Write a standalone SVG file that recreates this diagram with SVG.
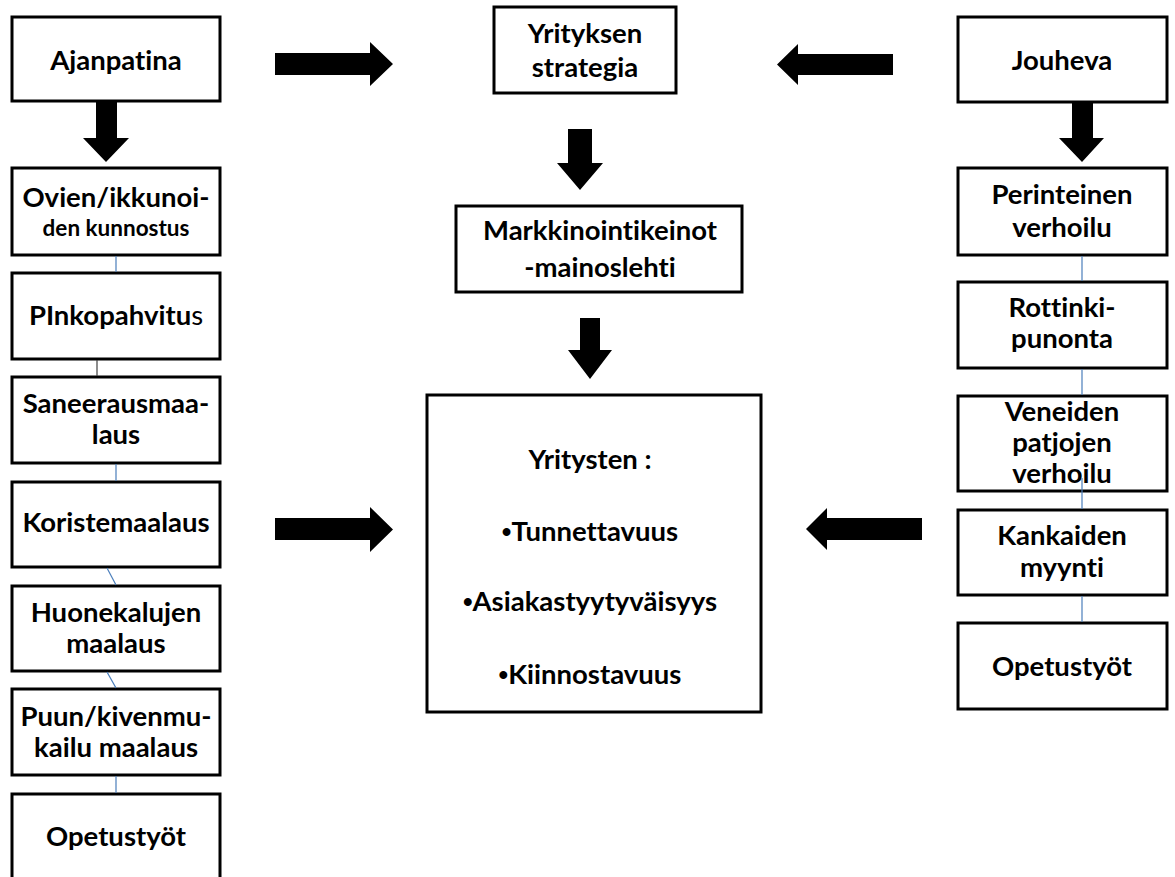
<svg xmlns="http://www.w3.org/2000/svg" width="1175" height="877" viewBox="0 0 1175 877">
<style>
.box{fill:#fff;stroke:#000;stroke-width:3}
.t{font-family:Lato,"Liberation Sans",sans-serif;font-weight:bold;font-size:27.5px;fill:#000;text-anchor:middle;font-variant-ligatures:none;font-feature-settings:"liga" 0,"clig" 0,"dlig" 0}
.s{font-size:22.5px}
.b{font-family:"Liberation Sans",sans-serif}
.ln{stroke:#4a7ebb;stroke-width:1.2;fill:none}
.ln2{stroke:#404040;stroke-width:1.2;fill:none}
.ar{fill:#000}
</style>
<rect width="1175" height="877" fill="#fff"/>
<g id="ajanpatina"><rect class="box" x="12" y="17" width="208" height="84"/><text class="t" x="116" y="70">Ajanpatina</text></g>
<g id="ovien"><rect class="box" x="12" y="168" width="208" height="87"/><text class="t" x="116" y="207">Ovien/ikkunoi-</text><text class="t s" x="116" y="236">den kunnostus</text></g>
<g id="pinkopahvitus"><rect class="box" x="12" y="273" width="208" height="86"/><text class="t" x="116" y="325">PInkopahvitu<tspan font-weight="normal">s</tspan></text></g>
<g id="saneeraus"><rect class="box" x="12" y="377" width="208" height="86"/><text class="t" x="116" y="413">Saneerausmaa-</text><text class="t" x="116" y="444">laus</text></g>
<g id="koriste"><rect class="box" x="12" y="482" width="208" height="85"/><text class="t" x="116" y="532">Koristemaalaus</text></g>
<g id="huonekalu"><rect class="box" x="12" y="586" width="208" height="85"/><text class="t" x="116" y="622">Huonekalujen</text><text class="t" x="116" y="653">maalaus</text></g>
<g id="puun"><rect class="box" x="12" y="689" width="208" height="86"/><text class="t" x="116" y="726">Puun/kivenmu-</text><text class="t" x="116" y="757">kailu maalaus</text></g>
<g id="opetus-left"><rect class="box" x="12" y="794" width="208" height="100"/><text class="t" x="116" y="846">Opetustyöt</text></g>

<g id="strategia"><rect class="box" x="494" y="7" width="182" height="86"/><text class="t" x="585" y="43">Yrityksen</text><text class="t" x="585" y="77">strategia</text></g>
<g id="markkinointi"><rect class="box" x="456" y="206" width="286" height="86"/><text class="t" x="600" y="240">Markkinointikeinot</text><text class="t" x="600" y="277">-mainoslehti</text></g>
<g id="yritysten"><rect class="box" x="427" y="395" width="334" height="317"/><text class="t" x="590" y="469">Yritysten :</text><text class="t" x="590" y="541"><tspan class="b">•</tspan>Tunnettavuus</text><text class="t" x="590" y="611"><tspan class="b">•</tspan>Asiakastyytyväisyys</text><text class="t" x="590" y="684"><tspan class="b">•</tspan>Kiinnostavuus</text></g>

<g id="jouheva"><rect class="box" x="958" y="17" width="209" height="85"/><text class="t" x="1062" y="70">Jouheva</text></g>
<g id="perinteinen"><rect class="box" x="958" y="168" width="209" height="87"/><text class="t" x="1062" y="204">Perinteinen</text><text class="t" x="1062" y="237">verhoilu</text></g>
<g id="rottinki"><rect class="box" x="958" y="282" width="209" height="86"/><text class="t" x="1062" y="317">Rottinki-</text><text class="t" x="1062" y="348">punonta</text></g>
<g id="veneiden"><rect class="box" x="958" y="396" width="209" height="95"/><text class="t" x="1062" y="421">Veneiden</text><text class="t" x="1062" y="452">patjojen</text><text class="t" x="1062" y="483">verhoilu</text></g>
<g id="kankaiden"><rect class="box" x="958" y="510" width="209" height="85"/><text class="t" x="1062" y="545">Kankaiden</text><text class="t" x="1062" y="577">myynti</text></g>
<g id="opetus-right"><rect class="box" x="958" y="623" width="209" height="86"/><text class="t" x="1062" y="676">Opetustyöt</text></g>

<g id="connectors">
<line class="ln" x1="116" y1="256" x2="116" y2="272"/>
<line class="ln2" x1="97" y1="360" x2="97" y2="376"/>
<line class="ln" x1="116" y1="464" x2="116" y2="481"/>
<line class="ln" x1="107" y1="568" x2="116" y2="585"/>
<line class="ln" x1="107" y1="672" x2="116" y2="688"/>
<line class="ln" x1="116" y1="776" x2="116" y2="793"/>
<line class="ln" x1="1082" y1="256" x2="1082" y2="281"/>
<line class="ln" x1="1082" y1="369" x2="1082" y2="395"/>
<line class="ln" x1="1082" y1="478" x2="1082" y2="509"/>
<line class="ln" x1="1082" y1="596" x2="1082" y2="622"/>
<polygon class="ar" points="275,53 370,53 370,42 393,64 370,86 370,75 275,75"/>
<polygon class="ar" points="275,518 370,518 370,507 393,529.5 370,552 370,540 275,540"/>
<polygon class="ar" points="893,54 798,54 798,44 777,64.5 798,85 798,75 893,75"/>
<polygon class="ar" points="922,518 827,518 827,508 806,529 827,550 827,540 922,540"/>
<polygon class="ar" points="96,102 117,102 117,138 129,138 106,162 83,138 96,138"/>
<polygon class="ar" points="1072,102 1093,102 1093,138 1104,138 1082,162 1059,138 1072,138"/>
<polygon class="ar" points="568,129 592,129 592,163 603,163 580,190 557,163 568,163"/>
<polygon class="ar" points="580,318 600,318 600,350 612,350 590,379 568,350 580,350"/>
</g>
</svg>
